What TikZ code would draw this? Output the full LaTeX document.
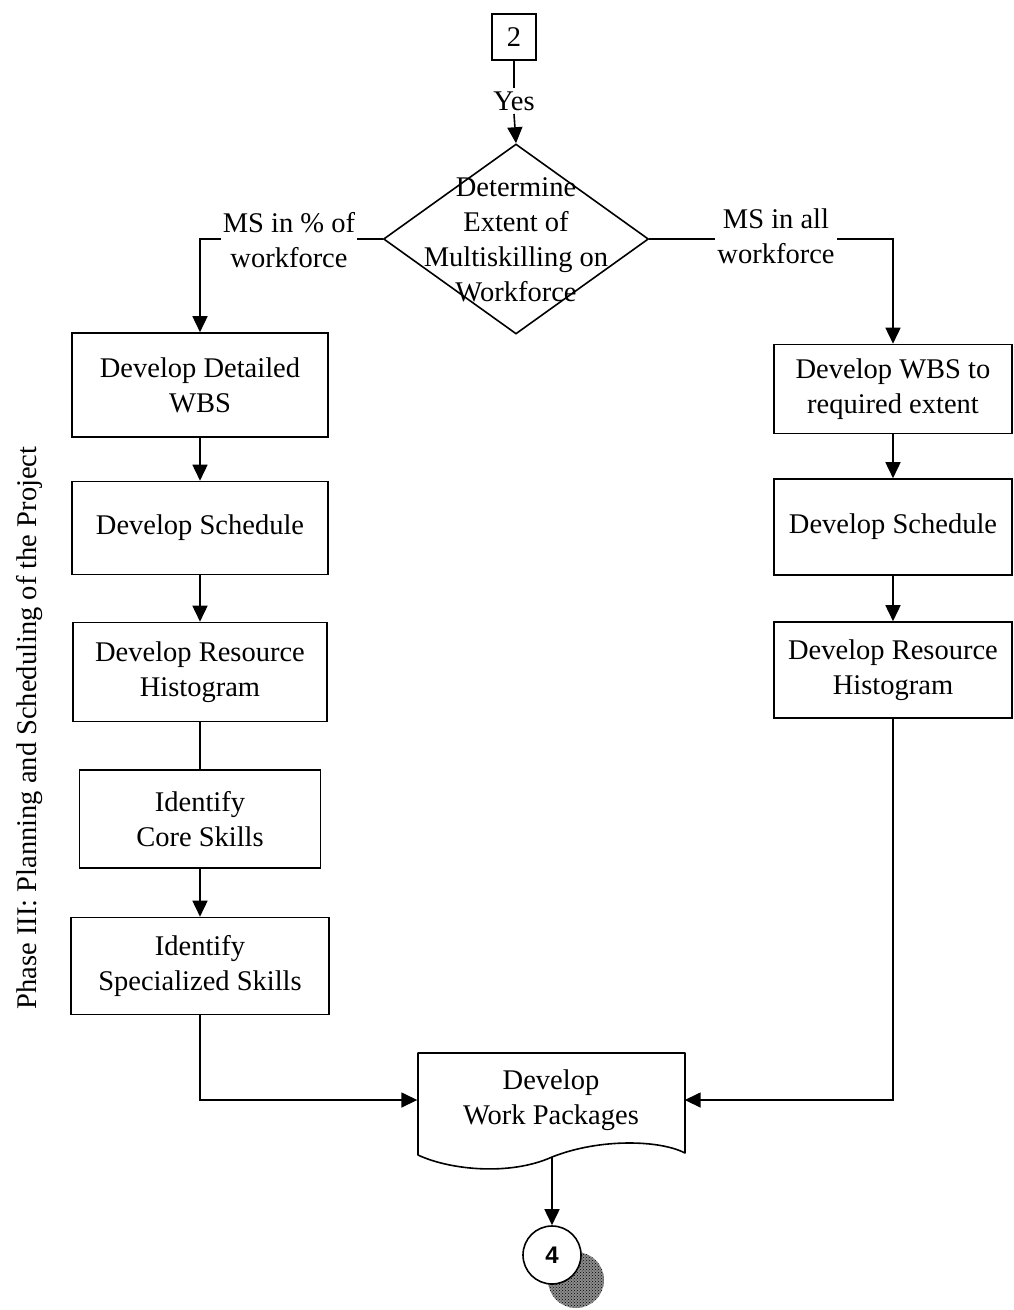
\documentclass[tikz,border=0pt]{standalone}
\usepackage{fontspec}
\setmainfont{Liberation Serif}
\newfontfamily\numsans{Liberation Sans}
\usetikzlibrary{arrows.meta,shapes.geometric,patterns}
\begin{document}
\begin{tikzpicture}[x=1pt,y=-1pt,
  every node/.style={font=\fontsize{28.5}{35}\selectfont},
  box/.style={draw,line width=1.6pt,align=center,inner sep=0pt},
  conn/.style={line width=1.6pt},
  arr/.style={conn,-{Triangle[length=16pt,width=15pt]}},
  lbl/.style={fill=white,align=center,inner sep=2pt}]
\useasboundingbox (0,0) rectangle (1014,1310);

% top connector box
\node[box,minimum width=44,minimum height=46] (c2) at (514,37) {2};
\node (yes) at (514,101) {Yes};
\draw[conn] (c2.south) -- (yes.north);

% decision
\node[draw,diamond,line width=1.6pt,minimum width=265,minimum height=190,inner sep=0pt] (d) at (516,239) {};
\draw[arr] (yes.south) -- (d.north);
\node[align=center] (dt) at (516,240) {Determine\\Extent of\\Multiskilling on\\Workforce};

% left column
\node[box,minimum width=256,minimum height=104] (L1) at (200,385) {Develop Detailed\\WBS};
\node[box,minimum width=256,minimum height=93] (L2) at (200,528) {Develop Schedule};
\node[box,minimum width=254,minimum height=99] (L3) at (200,672) {Develop Resource\\Histogram};
\node[box,minimum width=241,minimum height=98] (L4) at (200,819) {Identify\\Core Skills};
\node[box,minimum width=258,minimum height=97] (L5) at (200,966) {Identify\\Specialized Skills};

% right column
\node[box,minimum width=238,minimum height=89] (R1) at (893,389) {Develop WBS to\\required extent};
\node[box,minimum width=238,minimum height=96] (R2) at (893,527) {Develop Schedule};
\node[box,minimum width=238,minimum height=96] (R3) at (893,670) {Develop Resource\\Histogram};

% branches
\draw[arr] (d.west) -| (L1.north);
\draw[arr] (d.east) -| (R1.north);
\node[lbl] (ml) at (289,240) {MS in \% of\\workforce};
\node[lbl] (mr) at (776,236) {MS in all\\workforce};

\draw[arr] (L1.south) -- (L2.north);
\draw[arr] (L2.south) -- (L3.north);
\draw[conn] (L3.south) -- (L4.north);
\draw[arr] (L4.south) -- (L5.north);
\draw[arr] (R1.south) -- (R2.north);
\draw[arr] (R2.south) -- (R3.north);

% document shape
\node[align=center,minimum width=267,minimum height=94,inner sep=0pt] (doc) at (551,1100) {Develop\\Work Packages};
\draw[line width=1.6pt,line join=round] (418,1155) -- (418,1053) -- (685,1053) -- (685,1153)
  .. controls (660,1140) and (600,1138) .. (552,1157)
  .. controls (510,1176) and (450,1170) .. (418,1155) -- cycle;
\coordinate (docb) at (552,1157);

\draw[arr] (L5.south) |- (doc.west);
\draw[arr] (R3.south) |- (doc.east);

% off-page connector with shadow
\node[circle,minimum size=56,inner sep=0pt,fill=black!45] (sh) at (576,1280) {};
\node[circle,minimum size=56,inner sep=0pt,pattern=crosshatch dots,pattern color=black] (sh2) at (576,1280) {};
\node[circle,draw,line width=1.6pt,minimum size=58,inner sep=0pt,fill=white,font=\numsans\bfseries\fontsize{24}{28}\selectfont] (c4) at (552,1255) {4};
\draw[arr] (docb) -- (c4.north);

% phase label
\node[rotate=90] (ph) at (30,728) {Phase III: Planning and Scheduling of the Project};
\end{tikzpicture}
\end{document}
